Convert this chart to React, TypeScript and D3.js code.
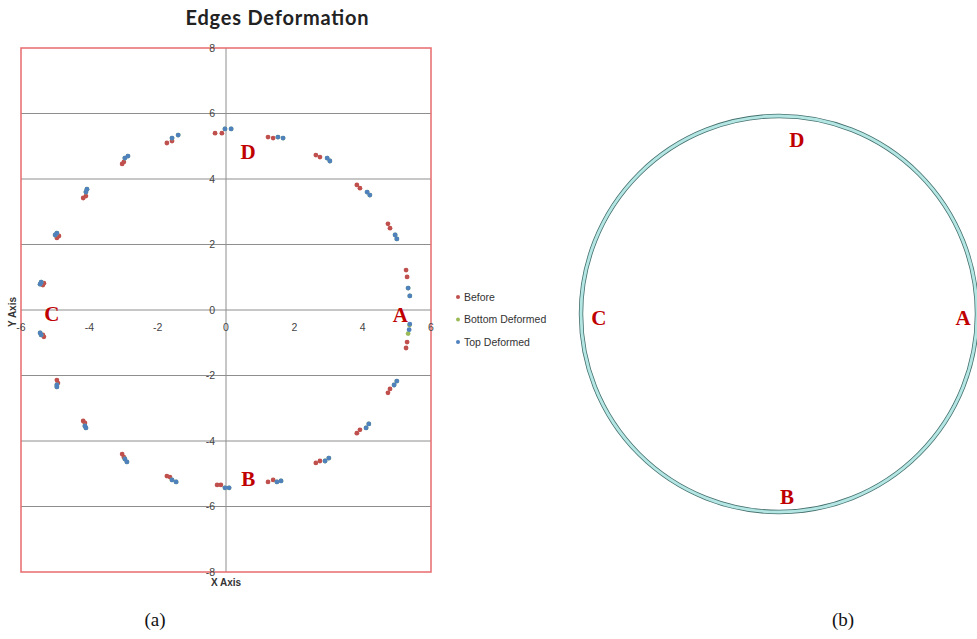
import React from "react";
import * as d3 from "d3";

type P = { x: number; y: number };

const xTicks = [-6, -4, -2, 0, 2, 4, 6];
const yTicks = [8, 6, 4, 2, 0, -2, -4, -6, -8];

const beforePoints: P[] = [
  { x: -0.32, y: 5.4 }, { x: -0.12, y: 5.4 },
  { x: -1.73, y: 5.1 }, { x: -1.58, y: 5.16 },
  { x: -3.04, y: 4.46 }, { x: -2.99, y: 4.52 },
  { x: -4.18, y: 3.42 }, { x: -4.1, y: 3.48 },
  { x: -4.95, y: 2.2 }, { x: -4.89, y: 2.26 },
  { x: -5.36, y: 0.76 }, { x: -5.33, y: 0.82 },
  { x: -5.36, y: -0.76 }, { x: -5.33, y: -0.82 },
  { x: -4.95, y: -2.14 }, { x: -4.92, y: -2.23 },
  { x: -4.18, y: -3.39 }, { x: -4.13, y: -3.45 },
  { x: -3.04, y: -4.4 }, { x: -2.99, y: -4.49 },
  { x: -1.73, y: -5.07 }, { x: -1.64, y: -5.1 },
  { x: -0.26, y: -5.34 }, { x: -0.15, y: -5.34 },
  { x: 1.23, y: -5.25 }, { x: 1.38, y: -5.19 },
  { x: 2.63, y: -4.67 }, { x: 2.75, y: -4.61 },
  { x: 3.83, y: -3.76 }, { x: 3.92, y: -3.66 },
  { x: 4.74, y: -2.53 }, { x: 4.8, y: -2.41 },
  { x: 5.3, y: -0.98 }, { x: 5.27, y: -1.16 },
  { x: 5.27, y: 1.22 }, { x: 5.3, y: 1.01 },
  { x: 4.74, y: 2.63 }, { x: 4.8, y: 2.5 },
  { x: 3.83, y: 3.82 }, { x: 3.92, y: 3.72 },
  { x: 2.63, y: 4.73 }, { x: 2.75, y: 4.67 },
  { x: 1.23, y: 5.28 }, { x: 1.38, y: 5.25 },
];

const bottomPoints: P[] = [
  { x: -0.03, y: 5.53 }, { x: 0.15, y: 5.53 },
  { x: -1.58, y: 5.25 }, { x: -1.4, y: 5.34 },
  { x: -2.96, y: 4.64 }, { x: -2.87, y: 4.7 },
  { x: -4.1, y: 3.6 }, { x: -4.07, y: 3.69 },
  { x: -5.0, y: 2.29 }, { x: -4.95, y: 2.35 },
  { x: -5.44, y: 0.79 }, { x: -5.41, y: 0.85 },
  { x: -5.44, y: -0.7 }, { x: -5.41, y: -0.76 },
  { x: -4.95, y: -2.29 }, { x: -4.95, y: -2.35 },
  { x: -4.13, y: -3.54 }, { x: -4.1, y: -3.6 },
  { x: -2.96, y: -4.55 }, { x: -2.9, y: -4.64 },
  { x: -1.58, y: -5.19 }, { x: -1.46, y: -5.25 },
  { x: -0.03, y: -5.43 }, { x: 0.09, y: -5.43 },
  { x: 1.49, y: -5.25 }, { x: 1.61, y: -5.22 },
  { x: 2.9, y: -4.61 }, { x: 3.01, y: -4.52 },
  { x: 4.1, y: -3.6 }, { x: 4.18, y: -3.48 },
  { x: 4.92, y: -2.29 }, { x: 5.0, y: -2.17 },
  { x: 5.37, y: -0.46 }, { x: 5.33, y: -0.72 },
  { x: 5.33, y: 0.67 }, { x: 5.38, y: 0.43 },
  { x: 4.95, y: 2.29 }, { x: 5.0, y: 2.17 },
  { x: 4.13, y: 3.6 }, { x: 4.21, y: 3.51 },
  { x: 2.96, y: 4.64 }, { x: 3.04, y: 4.55 },
  { x: 1.52, y: 5.28 }, { x: 1.67, y: 5.25 },
];

const topPoints: P[] = [
  { x: -0.03, y: 5.53 }, { x: 0.15, y: 5.53 },
  { x: -1.58, y: 5.25 }, { x: -1.4, y: 5.34 },
  { x: -2.96, y: 4.64 }, { x: -2.87, y: 4.7 },
  { x: -4.1, y: 3.6 }, { x: -4.07, y: 3.69 },
  { x: -5.0, y: 2.29 }, { x: -4.95, y: 2.35 },
  { x: -5.44, y: 0.79 }, { x: -5.41, y: 0.85 },
  { x: -5.44, y: -0.7 }, { x: -5.41, y: -0.76 },
  { x: -4.95, y: -2.29 }, { x: -4.95, y: -2.35 },
  { x: -4.13, y: -3.54 }, { x: -4.1, y: -3.6 },
  { x: -2.96, y: -4.55 }, { x: -2.9, y: -4.64 },
  { x: -1.58, y: -5.19 }, { x: -1.46, y: -5.25 },
  { x: -0.03, y: -5.43 }, { x: 0.09, y: -5.43 },
  { x: 1.49, y: -5.25 }, { x: 1.61, y: -5.22 },
  { x: 2.9, y: -4.61 }, { x: 3.01, y: -4.52 },
  { x: 4.1, y: -3.6 }, { x: 4.18, y: -3.48 },
  { x: 4.92, y: -2.29 }, { x: 5.0, y: -2.17 },
  { x: 5.38, y: -0.43 }, { x: 5.36, y: -0.6 },
  { x: 5.33, y: 0.67 }, { x: 5.38, y: 0.43 },
  { x: 4.95, y: 2.29 }, { x: 5.0, y: 2.17 },
  { x: 4.13, y: 3.6 }, { x: 4.21, y: 3.51 },
  { x: 2.96, y: 4.64 }, { x: 3.04, y: 4.55 },
  { x: 1.52, y: 5.28 }, { x: 1.67, y: 5.25 },
];

const seriesNames = ["Before", "Bottom Deformed", "Top Deformed"];
const seriesColors = ["#c0504d", "#9bbb59", "#4f81bd"];

// labels for panel (a) in data units
const labelsA = [
  { t: "D", x: 0.65, y: 4.85 },
  { t: "A", x: 5.1, y: -0.15 },
  { t: "C", x: -5.1, y: -0.1 },
  { t: "B", x: 0.65, y: -5.15 },
];
// labels for panel (b) in ring-relative units
const labelsB = [
  { t: "D", x: 0.09, y: 0.88 },
  { t: "C", x: -0.91, y: -0.02 },
  { t: "A", x: 0.93, y: -0.02 },
  { t: "B", x: 0.04, y: -0.92 },
];
const ringRadius = [1];

export default function App() {
  const x = d3.scaleLinear().domain([-6, 6]).range([21, 431]);
  const y = d3.scaleLinear().domain([-8, 8]).range([572, 48]);
  const bx = d3.scaleLinear().domain([-1, 1]).range([779 - 198, 779 + 198]);
  const by = d3.scaleLinear().domain([-1, 1]).range([314 + 198, 314 - 198]);
  const series = [beforePoints, bottomPoints, topPoints];
  const tickFont = "Liberation Sans, Arial, sans-serif";
  const serif = "Liberation Serif, Times New Roman, serif";

  return (
    <div style={{ position: "absolute", left: 0, top: 0 }}>
      <svg width={977} height={639} style={{ display: "block", background: "#fff" }}>
        <text x={277} y={25} textAnchor="middle" fontFamily="Lato, sans-serif" fontWeight={700} fontSize={20} textLength={183} lengthAdjust="spacing" fill="#222">
          Edges Deformation
        </text>
        {/* gridlines */}
        {yTicks.filter((v) => Math.abs(v) !== 8).map((v) => (
          <line key={"g" + v} x1={x(-6)} x2={x(6)} y1={y(v)} y2={y(v)} stroke="#8e8e8e" strokeWidth={1} />
        ))}
        <line x1={x(0)} x2={x(0)} y1={y(8)} y2={y(-8)} stroke="#8e8e8e" strokeWidth={1} />
        {/* border */}
        <rect x={x(-6)} y={y(8)} width={x(6) - x(-6)} height={y(-8) - y(8)} fill="none" stroke="#e86a6c" strokeWidth={1.5} />
        {/* y tick labels */}
        {yTicks.map((v) => (
          <text key={"y" + v} x={x(0) - 11} y={y(v)} dy="0.35em" textAnchor="end" fontFamily={tickFont} fontSize={10.5} fill="#444">
            {v}
          </text>
        ))}
        {xTicks.map((v) => (
          <text key={"x" + v} x={x(v)} y={y(0) + 21} textAnchor="middle" fontFamily={tickFont} fontSize={10.5} fill="#444">
            {v}
          </text>
        ))}
        <text x={x(0)} y={586} textAnchor="middle" fontFamily={tickFont} fontWeight={700} fontSize={10} fill="#333">
          X Axis
        </text>
        <text transform={`translate(16,${y(0) + 2}) rotate(-90)`} textAnchor="middle" fontFamily={tickFont} fontWeight={700} fontSize={10} fill="#333">
          Y Axis
        </text>
        {/* points */}
        {series.map((pts, i) => (
          <g key={"s" + i}>
            {pts.map((p, j) => (
              <circle key={j} cx={x(p.x)} cy={y(p.y)} r={2.4} fill={seriesColors[i]} />
            ))}
          </g>
        ))}
        {/* legend */}
        {seriesNames.map((n, i) => (
          <g key={"l" + i}>
            <circle cx={458} cy={297 + i * 22.5} r={2} fill={seriesColors[i]} />
            <text x={464} y={297 + i * 22.5} dy="0.35em" fontFamily={tickFont} fontSize={10.5} fill="#333">
              {n}
            </text>
          </g>
        ))}
        {labelsA.map((l) => (
          <text key={"la" + l.t} x={x(l.x)} y={y(l.y)} dy="0.35em" textAnchor="middle" fontFamily={serif} fontWeight={700} fontSize={21} fill="#c00000">
            {l.t}
          </text>
        ))}
        {/* panel b ring */}
        {ringRadius.map((r, i) => (
          <g key={"r" + i}>
            <circle cx={bx(0)} cy={by(0)} r={bx(r) - bx(0)} fill="none" stroke="#44706e" strokeWidth={4.4} />
            <circle cx={bx(0)} cy={by(0)} r={bx(r) - bx(0)} fill="none" stroke="#b4e6e4" strokeWidth={2.8} />
          </g>
        ))}
        {labelsB.map((l) => (
          <text key={"lb" + l.t} x={bx(l.x)} y={by(l.y)} dy="0.35em" textAnchor="middle" fontFamily={serif} fontWeight={700} fontSize={21} fill="#c00000">
            {l.t}
          </text>
        ))}
        <text x={155} y={626} textAnchor="middle" fontFamily={serif} fontSize={19} fill="#111">(a)</text>
        <text x={843} y={626} textAnchor="middle" fontFamily={serif} fontSize={19} fill="#111">(b)</text>
      </svg>
    </div>
  );
}
